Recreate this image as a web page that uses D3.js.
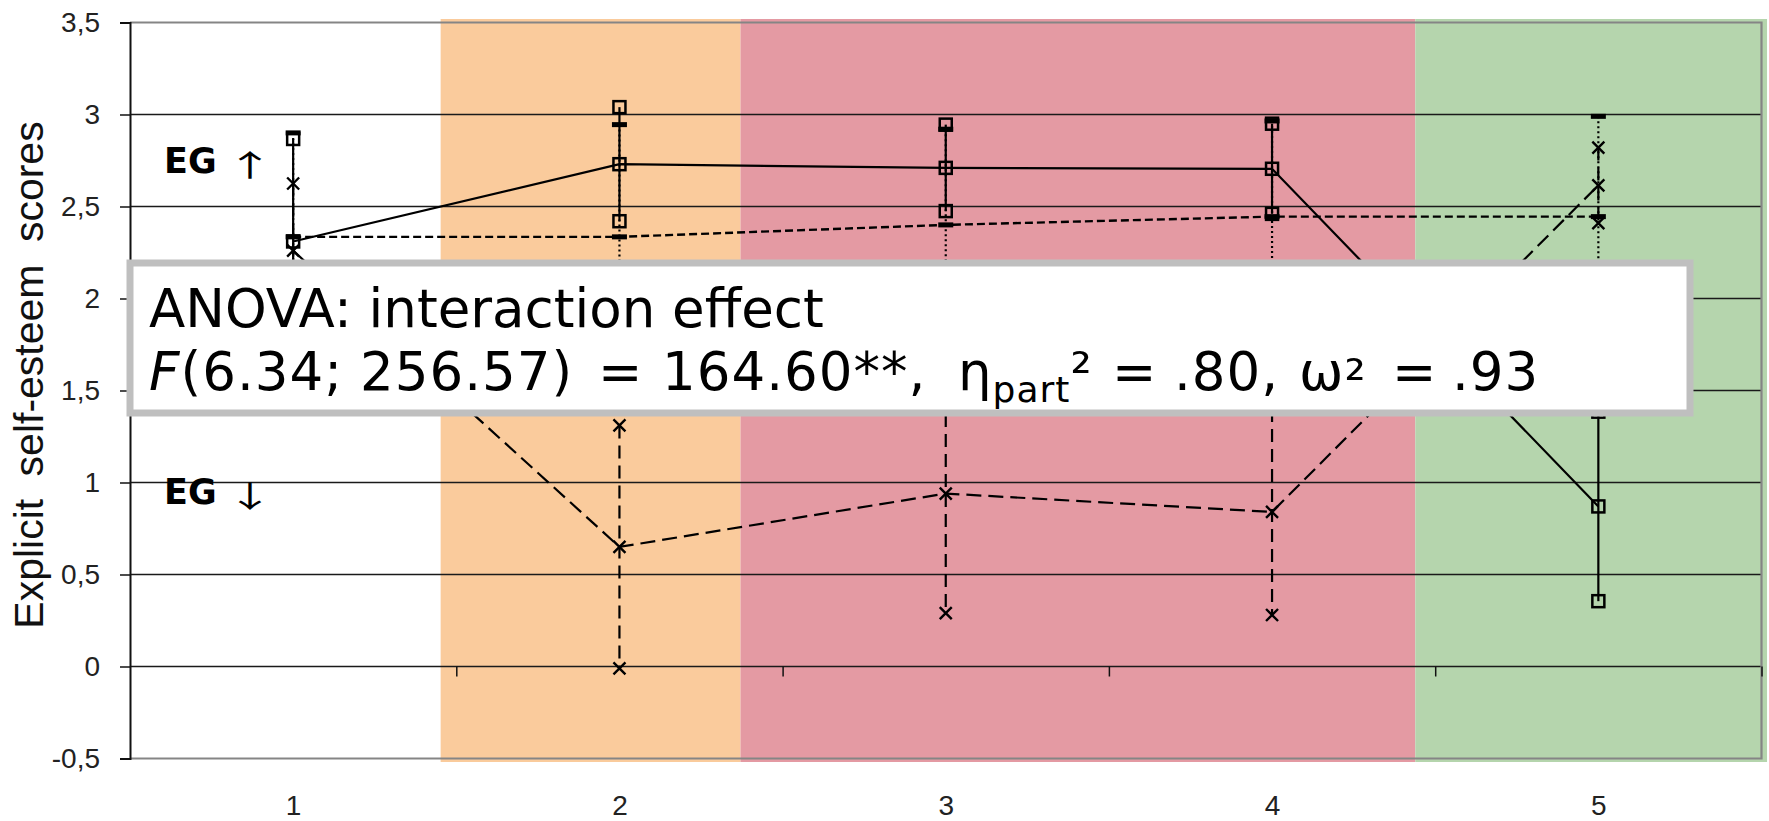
<!DOCTYPE html>
<html>
<head>
<meta charset="utf-8">
<script src="https://cdn.jsdelivr.net/npm/d3@7"></script>
<style>
  html, body { margin: 0; padding: 0; background: #fff; }
  svg { display: block; }
</style>
</head>
<body>
<svg id="chart" width="1769" height="821"></svg>
<script>
// Measurement occasions on the x axis
const categories = [1, 2, 3, 4, 5];
const categoryLabels = ["1", "2", "3", "4", "5"];

// Y axis ticks (decimal comma)
const yTicks = [-0.5, 0, 0.5, 1, 1.5, 2, 2.5, 3, 3.5];
const yTickLabels = ["-0,5", "0", "0,5", "1", "1,5", "2", "2,5", "3", "3,5"];

// Group means and standard deviations per occasion
const solidMean = [2.31, 2.73, 2.71, 2.705, 0.87];
const solidSD   = [0.557, 0.31, 0.235, 0.245, 0.515];
const shortMean = [2.335, 2.335, 2.40, 2.445, 2.445];
const shortSD   = [0.565, 0.61, 0.52, 0.52, 0.545];
const longMean  = [2.26, 0.65, 0.94, 0.84, 2.615];
const longSD    = [0.365, 0.66, 0.65, 0.56, 0.205];

// Background phases, in occasion units
const phaseStart = [1.452, 2.371, 4.439];
const phaseEnd   = [2.371, 4.439, 5.517];
const phaseColor = ["#facb9c", "#e49aa3", "#b5d5ad"];

const svg = d3.select("#chart");
const plotLeft = 130, plotRight = 1761.5, plotTop = 22.5, plotBottom = 758.5;

const x = d3.scaleLinear().domain([0.5, 5.5]).range([plotLeft, plotRight]);
const y = d3.scaleLinear().domain([-0.5, 3.5]).range([plotBottom, plotTop]);

// phase bands
svg.append("g").selectAll("rect")
  .data(phaseStart.map((s, i) => ({ s, e: phaseEnd[i], c: phaseColor[i] })))
  .join("rect")
  .attr("x", d => x(d.s))
  .attr("width", d => x(d.e) - x(d.s))
  .attr("y", plotTop - 3.5)
  .attr("height", plotBottom - plotTop + 7)
  .attr("fill", d => d.c);

// horizontal gridlines
svg.append("g").selectAll("line")
  .data(yTicks.filter(v => v > -0.5 && v < 3.5))
  .join("line")
  .attr("x1", plotLeft).attr("x2", plotRight)
  .attr("y1", d => y(d)).attr("y2", d => y(d))
  .attr("stroke", "#1a1a1a").attr("stroke-width", 1.3);

// plot frame (top, right, bottom)
svg.append("path")
  .attr("d", `M${plotLeft},${plotTop}H${plotRight}V${plotBottom}H${plotLeft}`)
  .attr("fill", "none").attr("stroke", "#858585").attr("stroke-width", 2.2);

// y axis
const yAxis = d3.axisLeft(y)
  .tickValues(yTicks)
  .tickSize(10)
  .tickPadding(20)
  .tickFormat(d => yTickLabels[yTicks.indexOf(d)]);
const gy = svg.append("g").attr("transform", `translate(${plotLeft},0)`).call(yAxis);
gy.select(".domain").attr("stroke", "#111").attr("stroke-width", 2);
gy.selectAll(".tick line").attr("stroke", "#111").attr("stroke-width", 1.5);
gy.selectAll(".tick text")
  .attr("font-family", "'Liberation Sans', Arial, sans-serif")
  .attr("font-size", 28).attr("fill", "#222");

// tick marks between occasions on the zero line
const xTickAxis = d3.axisBottom(x)
  .tickValues(categories.map(c => c + 0.5))
  .tickSize(10)
  .tickFormat("");
const gxt = svg.append("g").attr("transform", `translate(0,${y(0)})`).call(xTickAxis);
gxt.select(".domain").remove();
gxt.selectAll(".tick line").attr("stroke", "#111").attr("stroke-width", 1.5);

// occasion labels beneath the plot
const xLabelAxis = d3.axisBottom(x)
  .tickValues(categories)
  .tickSize(0)
  .tickPadding(37)
  .tickFormat((d, i) => categoryLabels[i]);
const gxl = svg.append("g").attr("transform", `translate(0,${plotBottom})`).call(xLabelAxis);
gxl.select(".domain").remove();
gxl.selectAll(".tick text")
  .attr("font-family", "'Liberation Sans', Arial, sans-serif")
  .attr("font-size", 28).attr("fill", "#222");

// y axis title
svg.append("text")
  .attr("transform", `translate(43,375) rotate(-90)`)
  .attr("text-anchor", "middle")
  .attr("font-family", "'Liberation Sans', Arial, sans-serif")
  .attr("font-size", 41)
  .attr("word-spacing", 11)
  .attr("fill", "#111")
  .text("Explicit self-esteem scores");

// series definitions
const series = [
  { mean: shortMean, sd: shortSD, dash: "8,4", whisker: "2,3", marker: "bar", width: 2.4 },
  { mean: longMean,  sd: longSD,  dash: "15,7", whisker: "13,7", marker: "cross", width: 2.2 },
  { mean: solidMean, sd: solidSD, dash: null, whisker: null, marker: "square", width: 2.2 }
];

const plot = svg.append("g");

// whiskers (mean ± SD)
series.forEach(s => {
  plot.append("g").selectAll("line")
    .data(categories.map((c, i) => ({ c, lo: s.mean[i] - s.sd[i], hi: s.mean[i] + s.sd[i] })))
    .join("line")
    .attr("x1", d => x(d.c)).attr("x2", d => x(d.c))
    .attr("y1", d => y(d.hi)).attr("y2", d => y(d.lo))
    .attr("stroke", "#000").attr("stroke-width", 2.2)
    .attr("stroke-dasharray", s.whisker);
});

// connecting lines
const line = d3.line().x(d => x(d.c)).y(d => y(d.v));
series.forEach(s => {
  plot.append("path")
    .datum(categories.map((c, i) => ({ c, v: s.mean[i] })))
    .attr("d", line)
    .attr("fill", "none")
    .attr("stroke", "#000")
    .attr("stroke-width", s.width)
    .attr("stroke-dasharray", s.dash);
});

// markers at mean and at both whisker ends
function drawMarker(g, kind, cx, cy) {
  if (kind === "square") {
    g.append("rect").attr("x", cx - 6).attr("y", cy - 6).attr("width", 12).attr("height", 12)
      .attr("fill", "none").attr("stroke", "#000").attr("stroke-width", 2.5);
  } else if (kind === "cross") {
    g.append("path").attr("d", `M${cx - 6},${cy - 6}L${cx + 6},${cy + 6}M${cx + 6},${cy - 6}L${cx - 6},${cy + 6}`)
      .attr("stroke", "#000").attr("stroke-width", 2.4).attr("fill", "none");
  } else {
    g.append("rect").attr("x", cx - 7.5).attr("y", cy - 2.5).attr("width", 15).attr("height", 5)
      .attr("fill", "#000");
  }
}
const markerOrder = [series[2], series[1], series[0]];
markerOrder.forEach(s => {
  const g = plot.append("g");
  categories.forEach((c, i) => {
    [s.mean[i], s.mean[i] + s.sd[i], s.mean[i] - s.sd[i]].forEach(v => drawMarker(g, s.marker, x(c), y(v)));
  });
});

// group labels
const eg = svg.append("g").attr("fill", "#000");
[["↑", 173], ["↓", 504]].forEach(([arrow, by]) => {
  eg.append("text").attr("x", 164).attr("y", by)
    .attr("font-family", "'DejaVu Sans', Verdana, sans-serif")
    .attr("font-size", 35).attr("font-weight", "bold").text("EG");
  eg.append("text")
    .attr("transform", `translate(250,${by + 3}) scale(1.6,1)`)
    .attr("text-anchor", "middle")
    .attr("font-family", "'Noto Sans CJK SC', 'Noto Sans', sans-serif")
    .attr("font-size", 30).text(arrow);
});

// ANOVA result box
svg.append("rect")
  .attr("x", 130).attr("y", 263).attr("width", 1560).attr("height", 150)
  .attr("fill", "#fff").attr("stroke", "#bfbfbf").attr("stroke-width", 7);

const boxText = svg.append("g")
  .attr("font-family", "'DejaVu Sans', Verdana, sans-serif")
  .attr("font-size", 53).attr("fill", "#000");
boxText.append("text").attr("x", 149).attr("y", 327).text("ANOVA: interaction effect");

// second line laid out piece by piece
const l2 = boxText.append("text").attr("y", 390).attr("letter-spacing", 1);
l2.append("tspan").attr("x", 149).attr("font-style", "italic").text("F");
l2.append("tspan").text("(6.34;");
l2.append("tspan").attr("x", 360).text("256.57)");
l2.append("tspan").attr("x", 598).text("=");
l2.append("tspan").attr("x", 662).text("164.60**,");
l2.append("tspan").attr("x", 958).text("η");
l2.append("tspan").attr("font-size", 36).attr("dy", 12).text("part");
l2.append("tspan").attr("dy", -12).text("²");
l2.append("tspan").attr("x", 1112).text("=");
l2.append("tspan").attr("x", 1174).text(".80,");
l2.append("tspan").attr("x", 1299).text("ω");
l2.append("tspan").attr("dy", 7).text("²");
l2.append("tspan").attr("x", 1392).attr("dy", -7).text("=");
l2.append("tspan").attr("x", 1452).text(".93");
</script>
</body>
</html>
